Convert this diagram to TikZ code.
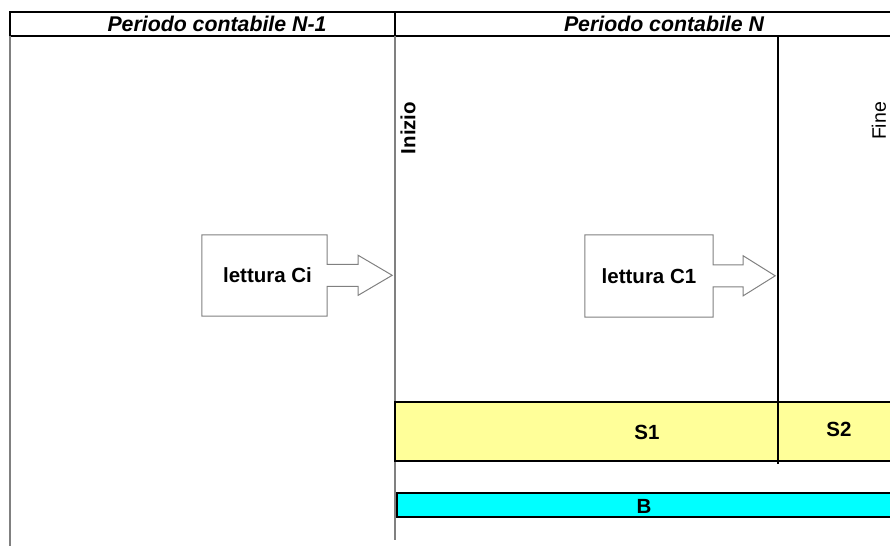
\documentclass[tikz,border=0pt]{standalone}
\usepackage{fontspec}
\setmainfont{Liberation Sans}
\usetikzlibrary{positioning}
\definecolor{softyellow}{HTML}{FFFF99}
\definecolor{brightcyan}{HTML}{00FFFF}
\definecolor{linegray}{HTML}{808080}

\begin{document}
\begin{tikzpicture}[x=1pt, y=-1pt,
    frame/.style = {line width=2pt},
    divider/.style = {draw=linegray, line width=1.5pt},
    txt/.style = {font=\bfseries\fontsize{20.5}{24}\selectfont},
    headtxt/.style = {font=\bfseries\itshape\fontsize{21.3}{25}\selectfont},
    readbox/.style = {minimum width=125pt, minimum height=81pt, inner sep=0pt, txt},
    callout/.style = {draw=linegray, line width=1pt},
    stripe/.style = {draw, line width=2pt, inner sep=0pt, anchor=north west}]

  \useasboundingbox (0,0) rectangle (890,546);

  % intestazione
  \draw[frame] (892,12) -- (10,12) -- (10,36) -- (892,36);
  \draw[frame] (395,12) -- (395,36);
  \node[headtxt] (hdprev) at (217,24) {Periodo contabile N-1};
  \node[headtxt] (hdcur) at (664,24) {Periodo contabile N};

  % linee verticali
  \draw[divider] (10,36) -- (10,546);
  \draw[divider] (395,36) -- (395,540);

  % barre
  \node[stripe, fill=softyellow, minimum width=498pt, minimum height=59pt] (sbar) at (394,401) {};
  \node[stripe, fill=brightcyan, minimum width=496pt, minimum height=24pt] (bbar) at (396,492) {};
  \node[txt] (s1) at (647,432) {S1};
  \node[txt] (s2) at (839,429) {S2};
  \node[txt] (b) at (644,506) {B};

  \draw[line width=1.5pt] (778,36) -- (778,464);

  % inizio / fine
  \node[txt, rotate=90] (inizio) at (408,128) {Inizio};
  \node[font=\fontsize{19.5}{23}\selectfont, rotate=90] (fine) at (879,121) {Fine};

  % letture
  \node[readbox] (readCi) at (264.5,275.5) {\hspace{6pt}lettura Ci};
  \node[readbox, minimum width=128pt, minimum height=82pt] (readC1) at (649,276) {lettura C1};

  \draw[callout] (readCi.north west) -- (readCi.north east) -- ++(0,29.5) -- ++(31,0) -- ++(0,-9)
    -- ++(34,20) -- ++(-34,20) -- ++(0,-9) -- ++(-31,0) |- (readCi.south west) -- cycle;
  \draw[callout] (readC1.north west) -- (readC1.north east) -- ++(0,30) -- ++(30,0) -- ++(0,-9)
    -- ++(32,20) -- ++(-32,20) -- ++(0,-9) -- ++(-30,0) |- (readC1.south west) -- cycle;
\end{tikzpicture}
\end{document}
